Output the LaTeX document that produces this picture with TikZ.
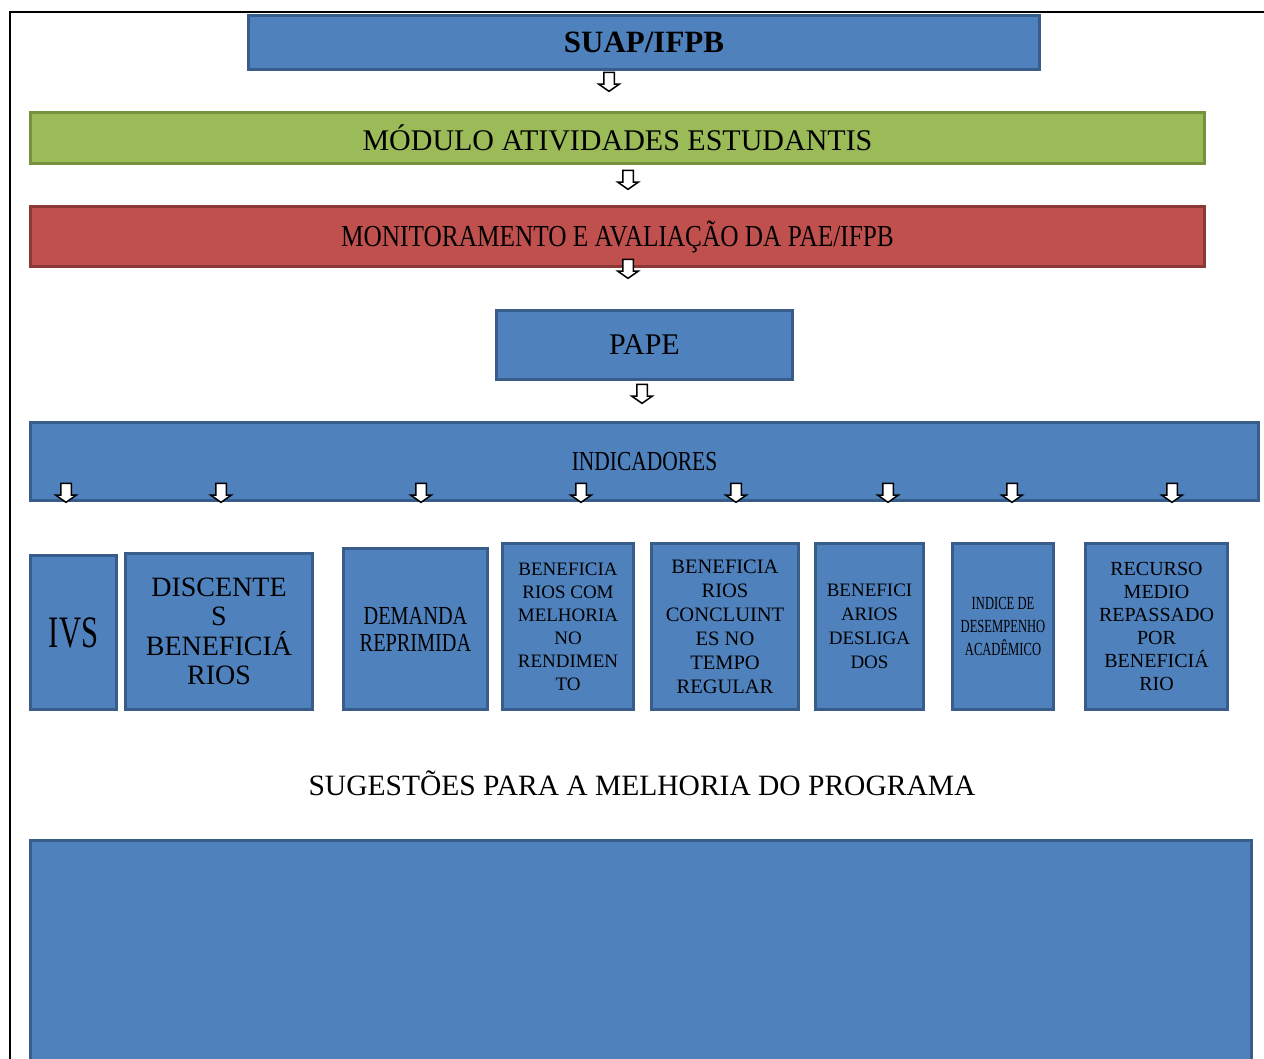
\documentclass[tikz,border=0pt]{standalone}
\usepackage{fontspec}
\setmainfont{Liberation Serif}
\newfontfamily\condfont[FakeStretch=0.78]{Liberation Serif}
\newfontfamily\semicondfont[FakeStretch=0.83]{Liberation Serif}
\newfontfamily\narrowfont[FakeStretch=0.68]{Liberation Serif}
\usetikzlibrary{shapes.arrows}
\definecolor{boxblue}{HTML}{4F81BD}
\definecolor{boxblueline}{HTML}{385D8A}
\definecolor{boxgreen}{HTML}{9BBB59}
\definecolor{boxgreenline}{HTML}{76923C}
\definecolor{boxred}{HTML}{C0504D}
\definecolor{boxredline}{HTML}{8C3836}
\begin{document}
\begin{tikzpicture}[x=1pt, y=-1pt, line width=3pt, blue box/.style={rectangle,draw=boxblueline,fill=boxblue,align=center,inner sep=2pt}, green box/.style={rectangle,draw=boxgreenline,fill=boxgreen,align=center}, red box/.style={rectangle,draw=boxredline,fill=boxred,align=center}, down arrow/.style={single arrow,draw=black,fill=white,line width=1.5pt,shape border rotate=270,inner sep=4.5pt,minimum height=19pt,single arrow head extend=5pt,single arrow tip angle=110}]%pixels of the reference
\useasboundingbox (0,0) rectangle (1264,1059);
\clip (0,0) rectangle (1264,1059);
\draw[line width=2pt] (1264,12) -- (10,12) -- (10,1059);
\begin{scope}[every node/.style={font=\fontsize{30}{36}\selectfont}]
\node[blue box, minimum width=791, minimum height=54, font=\bfseries\fontsize{31}{36}\selectfont] (suap) at (644,42.5) {SUAP/IFPB};
\node[green box, minimum width=1174, minimum height=51] (modulo) at (617.5,138) {MÓDULO ATIVIDADES ESTUDANTIS};
\node[red box, minimum width=1174, minimum height=60, font=\semicondfont\fontsize{30.5}{36}\selectfont] (monit) at (617.5,236.5) {MONITORAMENTO E AVALIAÇÃO DA PAE/IFPB};
\node[blue box, minimum width=296, minimum height=69] (pape) at (644.5,345) {PAPE};
\node[blue box, minimum width=1228, minimum height=78, font=\condfont\fontsize{27.5}{33}\selectfont] (indic) at (644.5,461.5) {INDICADORES};
\node[blue box, minimum width=1221, minimum height=228] (sugbox) at (641,954.5) {};
\node[font=\fontsize{29.5}{36}\selectfont] (sug) at (642,783) {SUGESTÕES PARA A MELHORIA DO PROGRAMA};
\end{scope}
\begin{scope}[every node/.style={blue box, minimum height=166}]
\node[minimum width=86, minimum height=154, font=\narrowfont\fontsize{45}{50}\selectfont] (ivs) at (73.5,632.5) {IVS};
\node[minimum width=187, minimum height=156, font=\fontsize{28}{29.5}\selectfont] (disc) at (219,631.5) {DISCENTE\\S\\BENEFICIÁ\\RIOS};
\node[minimum width=144, minimum height=161, font=\condfont\fontsize{26}{27}\selectfont] (dem) at (415.5,629) {DEMANDA\\REPRIMIDA};
\node[minimum width=131, font=\fontsize{19}{23}\selectfont] (melh) at (568,626.5) {BENEFICIA\\RIOS COM\\MELHORIA\\NO\\RENDIMEN\\TO};
\node[minimum width=147, font=\fontsize{20.5}{24}\selectfont] (concl) at (725,626.5) {BENEFICIA\\RIOS\\CONCLUINT\\ES NO\\TEMPO\\REGULAR};
\node[minimum width=108, font=\fontsize{19}{24}\selectfont] (deslig) at (869.5,626.5) {BENEFICI\\ARIOS\\DESLIGA\\DOS};
\node[minimum width=101, font=\narrowfont\fontsize{18.5}{23}\selectfont] (ida) at (1003,626.5) {INDICE DE\\DESEMPENHO\\ACADÊMICO};
\node[minimum width=142, font=\fontsize{20}{23}\selectfont] (recurso) at (1156.5,626.5) {RECURSO\\MEDIO\\REPASSADO\\POR\\BENEFICIÁ\\RIO};
\end{scope}
\node[down arrow] (a1) at (609,80) {};
\node[down arrow] (a2) at (628,178) {};
\node[down arrow] (a3) at (628,267) {};
\node[down arrow] (a4) at (642,392) {};
\foreach \x [count=\i] in {66,221,421,581,736,888,1012,1172}
  \node[down arrow] (i\i) at (\x,491) {};
\end{tikzpicture}
\end{document}
